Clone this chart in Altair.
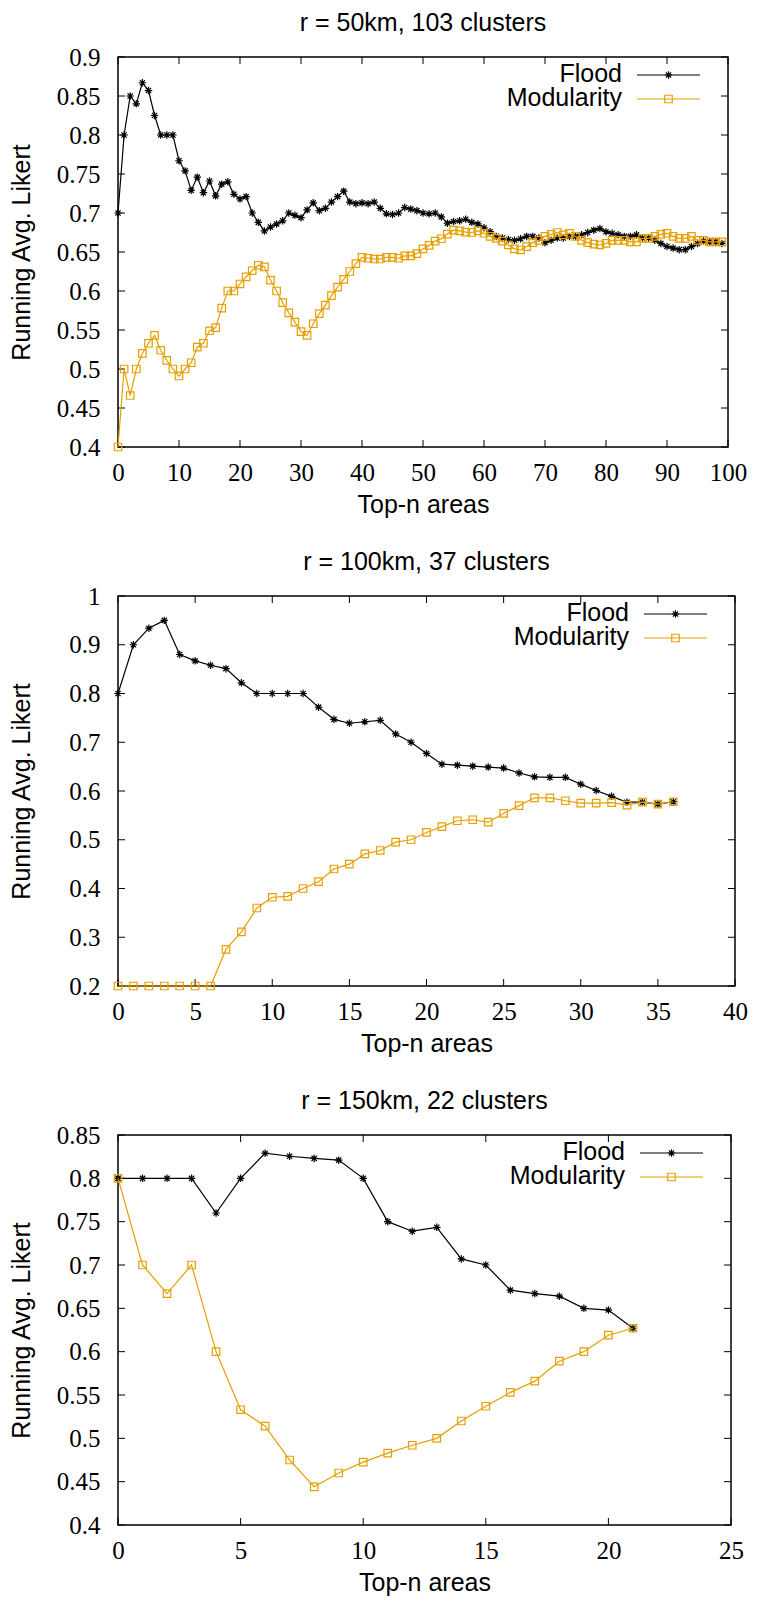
import altair as alt
import pandas as pd

# ---------------- data ----------------
p1_title = "r = 50km, 103 clusters"
p1_n = list(range(0, 100))
p1_flood = [0.70, 0.80, 0.85, 0.84, 0.867, 0.857, 0.825, 0.80, 0.80, 0.80,
            0.767, 0.754, 0.729, 0.746, 0.726, 0.741, 0.722, 0.737, 0.740, 0.724,
            0.718, 0.721, 0.70, 0.688, 0.677, 0.682, 0.686, 0.690, 0.70, 0.697,
            0.694, 0.704, 0.713, 0.703, 0.706, 0.714, 0.721, 0.728, 0.714, 0.712,
            0.713, 0.712, 0.714, 0.706, 0.699, 0.698, 0.700, 0.707, 0.705, 0.703,
            0.700, 0.699, 0.700, 0.695, 0.687, 0.689, 0.690, 0.692, 0.688, 0.686,
            0.681, 0.676, 0.670, 0.668, 0.666, 0.665, 0.667, 0.670, 0.670, 0.668,
            0.662, 0.665, 0.668, 0.668, 0.670, 0.670, 0.672, 0.675, 0.678, 0.680,
            0.676, 0.674, 0.672, 0.670, 0.670, 0.672, 0.668, 0.668, 0.665, 0.661,
            0.657, 0.655, 0.653, 0.653, 0.657, 0.661, 0.664, 0.663, 0.663, 0.661]
p1_mod = [0.40, 0.50, 0.466, 0.50, 0.52, 0.533, 0.543, 0.524, 0.511, 0.50,
          0.491, 0.50, 0.508, 0.528, 0.533, 0.549, 0.553, 0.578, 0.60, 0.60,
          0.609, 0.618, 0.626, 0.633, 0.631, 0.614, 0.60, 0.585, 0.572, 0.56,
          0.548, 0.543, 0.558, 0.571, 0.582, 0.594, 0.605, 0.615, 0.625, 0.635,
          0.643, 0.642, 0.641, 0.641, 0.643, 0.643, 0.642, 0.645, 0.645, 0.648,
          0.654, 0.6585, 0.664, 0.667, 0.673, 0.678, 0.677, 0.6755, 0.675, 0.677,
          0.674, 0.670, 0.6675, 0.664, 0.659, 0.654, 0.6526, 0.657, 0.662, 0.665,
          0.670, 0.6725, 0.675, 0.672, 0.674, 0.670, 0.665, 0.662, 0.660, 0.659,
          0.661, 0.665, 0.665, 0.665, 0.663, 0.663, 0.6675, 0.6675, 0.670, 0.6725,
          0.674, 0.670, 0.6675, 0.6675, 0.670, 0.665, 0.665, 0.663, 0.663, 0.663]
p1_xticks = [0, 10, 20, 30, 40, 50, 60, 70, 80, 90, 100]
p1_yticks = [0.4, 0.45, 0.5, 0.55, 0.6, 0.65, 0.7, 0.75, 0.8, 0.85, 0.9]

p2_title = "r = 100km, 37 clusters"
p2_n = list(range(0, 37))
p2_flood = [0.80, 0.90, 0.934, 0.95, 0.88, 0.867, 0.858, 0.851, 0.822, 0.80,
            0.80, 0.80, 0.80, 0.772, 0.747, 0.739, 0.742, 0.745, 0.717, 0.70,
            0.677, 0.655, 0.653, 0.651, 0.649, 0.647, 0.637, 0.629, 0.628, 0.628,
            0.614, 0.601, 0.589, 0.577, 0.577, 0.573, 0.578]
p2_mod = [0.2, 0.2, 0.2, 0.2, 0.2, 0.2, 0.2, 0.275, 0.311, 0.36,
          0.382, 0.384, 0.40, 0.414, 0.44, 0.45, 0.471, 0.478, 0.495, 0.50,
          0.515, 0.527, 0.539, 0.541, 0.536, 0.554, 0.570, 0.586, 0.586, 0.580,
          0.575, 0.575, 0.576, 0.571, 0.577, 0.573, 0.578]
p2_xticks = [0, 5, 10, 15, 20, 25, 30, 35, 40]
p2_yticks = [0.2, 0.3, 0.4, 0.5, 0.6, 0.7, 0.8, 0.9, 1.0]

p3_title = "r = 150km, 22 clusters"
p3_n = list(range(0, 22))
p3_flood = [0.80, 0.80, 0.80, 0.80, 0.760, 0.80, 0.829, 0.8255, 0.823, 0.821,
            0.80, 0.750, 0.739, 0.7435, 0.707, 0.70, 0.671, 0.667, 0.664, 0.650,
            0.648, 0.627]
p3_mod = [0.80, 0.70, 0.667, 0.70, 0.60, 0.533, 0.514, 0.475, 0.444, 0.46,
          0.4725, 0.483, 0.492, 0.50, 0.52, 0.537, 0.553, 0.566, 0.589, 0.60,
          0.619, 0.627]
p3_xticks = [0, 5, 10, 15, 20, 25]
p3_yticks = [0.4, 0.45, 0.5, 0.55, 0.6, 0.65, 0.7, 0.75, 0.8, 0.85]

series_names = ["Flood", "Modularity"]
x_title = "Top-n areas"
y_title = "Running Avg. Likert"

# ---------------- style ----------------
FLOOD_COLOR = "#000000"
MOD_COLOR = "#E69F00"
ASTERISK = "M-1,0L1,0M0,-1L0,1M-0.7,-0.7L0.7,0.7M-0.7,0.7L0.7,-0.7"
SANS = "Liberation Sans"
SERIF = "Liberation Serif"
TICK = 7


def panel(title, n, flood, mod, xticks, yticks, w, h, ytitle_pad=22):
    xs = alt.Scale(domain=[xticks[0], xticks[-1]], nice=False, zero=False)
    ys = alt.Scale(domain=[yticks[0], yticks[-1]], nice=False, zero=False)
    xaxis = alt.Axis(values=xticks, format="d", title=x_title)
    yaxis = alt.Axis(values=yticks, format=".2~f", title=y_title, titlePadding=ytitle_pad)

    def X():
        return alt.X("x:Q", scale=xs, axis=xaxis)

    def Y():
        return alt.Y("y:Q", scale=ys, axis=yaxis)

    fdf = pd.DataFrame({"x": n, "y": flood})
    mdf = pd.DataFrame({"x": n, "y": mod})
    xt = pd.DataFrame({"x": xticks})
    yt = pd.DataFrame({"y": yticks})
    one = pd.DataFrame({"k": [0]})

    layers = [
        # panel title
        alt.Chart(one).mark_text(align="center", baseline="top", font=SANS,
                                 fontSize=25, color="black").encode(
            x=alt.value(w / 2), y=alt.value(-46), text=alt.value(title)),
        # inward ticks (bottom, top, left, right)
        alt.Chart(xt).mark_rule(color="black", strokeWidth=1).encode(
            x=X(), y=alt.value(h), y2=alt.value(h - TICK)),
        alt.Chart(xt).mark_rule(color="black", strokeWidth=1).encode(
            x=X(), y=alt.value(0), y2=alt.value(TICK)),
        alt.Chart(yt).mark_rule(color="black", strokeWidth=1).encode(
            y=Y(), x=alt.value(0), x2=alt.value(TICK)),
        alt.Chart(yt).mark_rule(color="black", strokeWidth=1).encode(
            y=Y(), x=alt.value(w - TICK), x2=alt.value(w)),
        # series
        alt.Chart(fdf).mark_line(color=FLOOD_COLOR, strokeWidth=1.2).encode(x=X(), y=Y()),
        alt.Chart(fdf).mark_point(shape=ASTERISK, filled=False, size=56,
                                  color=FLOOD_COLOR, strokeWidth=1.2, opacity=1).encode(x=X(), y=Y()),
        alt.Chart(mdf).mark_line(color=MOD_COLOR, strokeWidth=1.2).encode(x=X(), y=Y()),
        alt.Chart(mdf).mark_point(shape="square", filled=False, size=56,
                                  color=MOD_COLOR, strokeWidth=1.2, opacity=1).encode(x=X(), y=Y()),
    ]
    # legend (inside, top right)
    for i, (name, col, shp) in enumerate(zip(series_names, [FLOOD_COLOR, MOD_COLOR], [ASTERISK, "square"])):
        ly = 18 + 24 * i
        layers.append(alt.Chart(one).mark_text(align="right", baseline="alphabetic", font=SANS,
                                               fontSize=25, color="black").encode(
            x=alt.value(w - 106), y=alt.value(ly + 6.5), text=alt.value(name)))
        layers.append(alt.Chart(one).mark_rule(color=col, strokeWidth=1.2).encode(
            x=alt.value(w - 91), x2=alt.value(w - 28), y=alt.value(ly)))
        layers.append(alt.Chart(one).mark_point(shape=shp, filled=False, size=56,
                                                color=col, strokeWidth=1.2, opacity=1).encode(
            x=alt.value(w - 59.5), y=alt.value(ly)))
    return alt.layer(*layers).properties(width=w, height=h)


c1 = panel(p1_title, p1_n, p1_flood, p1_mod, p1_xticks, p1_yticks, 610, 390)
c2 = panel(p2_title, p2_n, p2_flood, p2_mod, p2_xticks, p2_yticks, 617, 390, ytitle_pad=34.5)
c3 = panel(p3_title, p3_n, p3_flood, p3_mod, p3_xticks, p3_yticks, 613, 390)

chart = alt.vconcat(c1, c2, c3, spacing=31).properties(
    padding={"left": 0, "top": 2, "right": 0, "bottom": 0}
).configure_view(
    stroke="black", strokeWidth=1.5
).configure_axis(
    labelFont=SERIF, labelFontSize=25, labelColor="black",
    titleFont=SANS, titleFontSize=25, titleFontWeight="normal", titleColor="black",
    domain=False, ticks=False, grid=False, labelFlush=False, labelOverlap=False
).configure_axisX(
    labelPadding=13, titlePadding=7
).configure_axisY(
    labelPadding=18
)

chart.save("out.html", embed_options={"renderer": "svg", "actions": False})
